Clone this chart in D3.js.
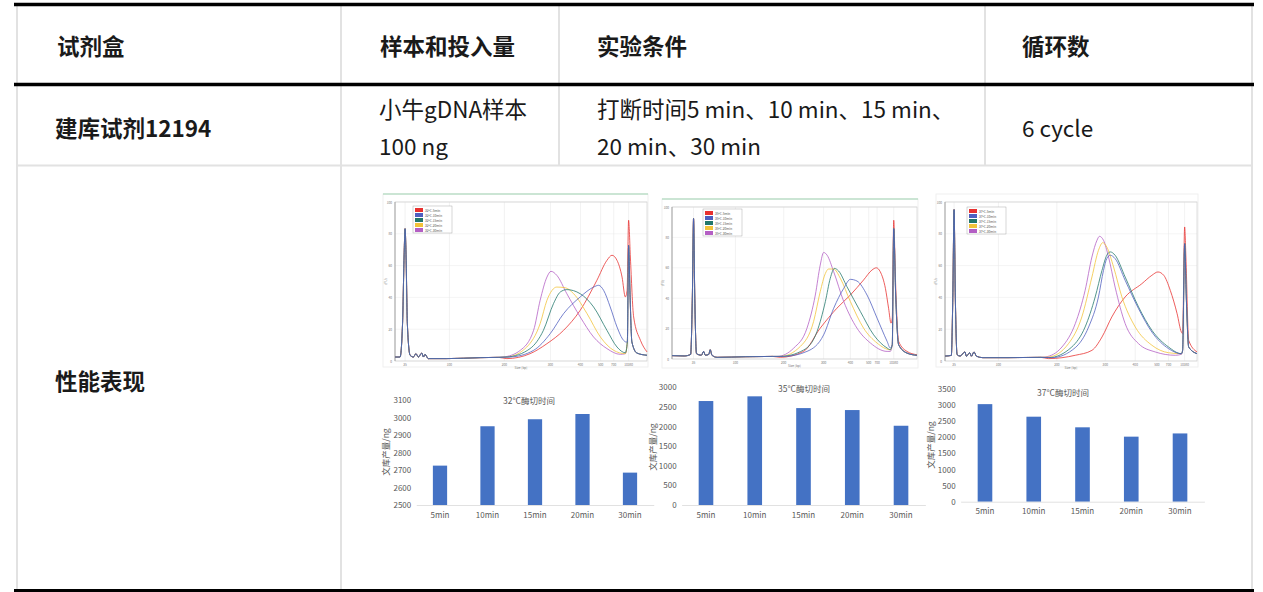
<!DOCTYPE html>
<html>
<head>
<meta charset="utf-8">
<script src="https://cdn.jsdelivr.net/npm/d3@7"></script>
<style>
  html, body { margin: 0; padding: 0; background: #fff; }
  svg { display: block; font-family: "Noto Sans CJK SC", "Noto Sans", sans-serif; }
</style>
</head>
<body>
<svg id="chart" width="1263" height="592"></svg>
<script>
// ---------- table text ----------
const headerCells = ["试剂盒", "样本和投入量", "实验条件", "循环数"];
const kitName = "建库试剂12194";
const sampleLines = ["小牛gDNA样本", "100 ng"];
const conditionLines = ["打断时间5 min、10 min、15 min、", "20 min、30 min"];
const cycleText = "6 cycle";
const rowTitle = "性能表现";

// ---------- library yield bar charts ----------
const digestTimes = ["5min", "10min", "15min", "20min", "30min"];
const yield32 = [2725, 2950, 2990, 3020, 2685];
const yield35 = [2650, 2770, 2470, 2420, 2020];
const yield37 = [3030, 2640, 2310, 2020, 2120];
const ticks32 = [2500, 2600, 2700, 2800, 2900, 3000, 3100];
const ticks35 = [0, 500, 1000, 1500, 2000, 2500, 3000];
const ticks37 = [0, 500, 1000, 1500, 2000, 2500, 3000, 3500];
const barTitles = ["32°C酶切时间", "35°C酶切时间", "37°C酶切时间"];
const yieldAxisLabel = "文库产量/ng";

// ---------- fragment size traces (x: migration %, y: FU) ----------
const traceColors = ["#e8312f", "#4f5fbf", "#22776b", "#f2c33a", "#b45fc4"];
const fuTicks = [0, 20, 40, 60, 80, 100];
const sizeLabels = ["35", "100", "200", "300", "400", "500", "700", "10380"];
const ladder32 = [4.0, 21.6, 43.4, 61.7, 73.6, 81.6, 86.8, 92.7];
const ladder35 = [8.8, 25.9, 45.6, 61.9, 72.8, 80.3, 83.7, 90.5];
const ladder37 = [3.6, 21.2, 44.4, 63.6, 75.5, 84.1, 88.7, 95.1];

// 32°C
const ep32Head = [[0,2.5],[2.0,2.5],[3.0,23.5],[3.6,65.4],[4.0,83.2],[4.4,65.4],[4.9,23.5],[6.0,3.6],[7.3,2.5],[8.3,4.6],[9.3,2.5],[10.6,5.0],[11.3,2.5],[11.9,4.2],[13.2,1.5],[20.5,1.5],[33.8,2.1],[41.0,2.3]];
const ep32Min5 = [[44.4,1.5],[53.6,4.6],[60.3,10.9],[66.9,19.3],[73.5,31.9],[80.1,50.7],[84.1,63.3],[86.1,66.5],[88.1,63.3],[90.1,52.8],[91.4,40.3],[92.1,44.4],[92.7,88.5],[93.4,65.4],[94.7,27.7],[97.4,13.0],[100,5.7]];
const ep32Min10 = [[45.7,2.5],[55.0,6.7],[61.6,17.2],[66.9,29.8],[73.5,40.3],[78.8,46.5],[80.8,47.6],[82.8,44.4],[85.4,34.0],[88.1,21.4],[90.7,13.0],[91.8,11.9]];
const ep32Min15 = [[44.4,2.5],[53.6,7.8],[58.9,19.3],[62.9,36.1],[65.6,43.4],[68.2,44.9],[73.5,42.3],[78.8,34.0],[84.1,19.3],[88.1,8.8],[91.4,5.2]];
const ep32Min20 = [[44.4,2.5],[52.3,8.8],[57.6,23.5],[60.3,38.2],[62.3,44.4],[64.2,46.5],[67.5,46.1],[70.9,42.3],[76.2,29.8],[81.5,15.1],[86.8,6.7],[91.4,4.6]];
const ep32Min30 = [[43.0,2.5],[49.7,6.7],[55.0,19.3],[57.6,38.2],[60.3,52.8],[61.9,56.4],[64.2,53.9],[68.2,42.3],[73.5,27.7],[78.8,15.1],[84.1,7.8],[89.4,4.2],[91.4,4.6]];
const ep32Tail = [[92.2,12.0],[92.7,72.7],[93.3,40.0],[94.0,12.0],[96.0,5.0],[100,3.6]];

// 35°C
const ep35Head = [[0,2.2],[5.0,2.0],[7.6,3.0],[8.3,40.0],[8.8,92.4],[9.3,40.0],[10.0,3.5],[12.0,2.5],[12.9,5.0],[13.6,2.5],[15.0,3.0],[15.6,6.1],[16.3,2.5],[18.4,1.1],[30.0,1.5],[41.0,1.7]];
const ep35Min5 = [[44.2,1.1],[53.7,5.0],[60.5,20.3],[67.3,33.4],[72.8,42.1],[78.2,52.0],[81.6,58.5],[83.4,60.0],[85.0,57.4],[87.1,46.5],[88.4,33.4],[89.4,23.6],[89.9,26.9],[90.5,91.3],[91.2,53.1],[92.5,11.6],[95.9,5.0],[100,2.8]];
const ep35Min10 = [[45.6,1.7],[55.1,5.0],[61.9,15.9],[66.0,33.4],[70.1,46.5],[72.8,52.4],[75.5,51.3],[79.6,42.1],[83.7,26.9],[87.8,11.6],[89.1,7.2]];
const ep35Min15 = [[44.2,1.7],[53.7,5.9],[59.2,18.1],[62.6,37.8],[64.6,53.1],[66.3,59.6],[68.0,57.9],[71.4,47.6],[76.9,31.2],[82.3,15.9],[87.8,7.2],[89.1,6.1]];
const ep35Min20 = [[44.2,1.7],[52.4,8.3],[57.8,24.7],[60.5,44.3],[62.6,56.3],[63.9,59.2],[66.0,59.2],[68.7,53.1],[72.8,37.8],[78.2,20.3],[83.7,10.5],[89.1,6.1]];
const ep35Min30 = [[42.9,1.7],[49.7,7.2],[55.1,20.3],[58.5,42.1],[60.5,61.8],[61.9,70.1],[63.3,68.3],[66.0,57.4],[70.1,37.8],[75.5,20.3],[81.0,10.5],[87.8,5.0],[89.1,5.0]];
const ep35Tail = [[89.9,9.4],[90.5,85.8],[91.3,42.1],[92.5,9.4],[95.9,3.9],[100,2.4]];

// 37°C
const ep37Head = [[0,3.1],[2.5,3.5],[3.1,40.0],[3.6,95.2],[4.1,40.0],[4.8,4.0],[6.0,3.1],[7.9,5.7],[8.5,3.0],[9.8,5.2],[10.5,3.0],[11.5,5.7],[12.5,3.0],[15.0,2.1],[25.0,2.1],[38.0,2.3]];
const ep37Min5 = [[41.1,1.5],[51.7,3.6],[58.3,6.7],[62.3,15.1],[66.2,27.7],[71.5,40.3],[78.1,48.6],[82.1,53.9],[84.5,56.0],[86.8,53.9],[89.4,44.4],[92.1,29.8],[93.8,18.2],[94.3,17.2],[95.1,84.3],[95.6,65.4],[96.7,13.0],[100,5.7]];
const ep37Min10 = [[42.4,2.1],[51.7,8.4],[57.0,21.4],[60.9,40.3],[62.9,57.0],[64.2,64.4],[65.6,66.5],[67.5,64.4],[71.5,50.7],[76.8,32.9],[82.1,18.2],[88.7,7.8],[93.8,4.6]];
const ep37Min15 = [[41.1,2.1],[50.3,8.8],[55.6,21.4],[59.6,40.3],[62.3,57.0],[64.2,66.5],[65.6,68.6],[67.5,66.5],[71.5,52.8],[76.8,34.0],[82.1,19.3],[88.7,8.8],[93.8,4.6]];
const ep37Min20 = [[41.1,2.5],[49.0,10.9],[54.3,27.7],[58.3,52.8],[60.9,69.6],[62.6,74.4],[64.2,71.7],[66.9,59.1],[70.2,40.3],[75.5,21.4],[82.1,9.9],[88.7,5.2],[93.8,4.6]];
const ep37Min30 = [[39.7,2.5],[46.4,8.8],[51.7,23.5],[55.6,44.4],[58.3,65.4],[60.3,75.9],[61.3,78.4],[62.9,75.9],[64.9,65.4],[67.5,46.5],[71.5,23.5],[76.8,10.9],[83.4,5.7],[91.4,3.6],[93.8,4.2]];
const ep37Tail = [[94.3,6.7],[95.1,73.8],[95.8,38.2],[96.7,8.8],[100,4.6]];

const svg = d3.select("#chart");
svg.append("rect").attr("width", 1263).attr("height", 592).attr("fill", "#fff");

// ---------- table grid ----------
const grid = svg.append("g");
// full-height borders, plus the column separator that continues into the last row
[17, 341, 1252].forEach(x => {
  grid.append("line").attr("x1", x).attr("x2", x).attr("y1", 5).attr("y2", 590)
    .attr("stroke", "#e2e2e2").attr("stroke-width", 2);
});
// separators that only span the header and the parameter row
[559, 985].forEach(x => {
  grid.append("line").attr("x1", x).attr("x2", x).attr("y1", 5).attr("y2", 165)
    .attr("stroke", "#e2e2e2").attr("stroke-width", 2);
});
grid.append("line").attr("x1", 17).attr("x2", 1252).attr("y1", 165.5).attr("y2", 165.5)
  .attr("stroke", "#e2e2e2").attr("stroke-width", 2);
[[4.5, 3.5], [84.5, 3.5], [590.5, 3]].forEach(([y, w]) => {
  grid.append("line").attr("x1", 14).attr("x2", 1254).attr("y1", y).attr("y2", y)
    .attr("stroke", "#000").attr("stroke-width", w);
});

const txt = svg.append("g").attr("fill", "#1a1a1a").style("font-size", "22.5px");
const headerX = [57, 380, 597, 1022];
txt.selectAll("text.h").data(headerCells).join("text")
  .attr("x", (d, i) => headerX[i]).attr("y", 45).attr("dominant-baseline", "central")
  .attr("font-weight", 700).text(d => d);
txt.append("text").attr("x", 55).attr("y", 127).attr("dominant-baseline", "central")
  .attr("font-weight", 700).text(kitName);
txt.selectAll("text.s").data(sampleLines).join("text")
  .attr("x", 379).attr("y", (d, i) => 108 + i * 37).attr("dominant-baseline", "central").text(d => d);
txt.selectAll("text.c").data(conditionLines).join("text")
  .attr("x", 597).attr("y", (d, i) => 108 + i * 37).attr("dominant-baseline", "central").text(d => d);
txt.append("text").attr("x", 1022).attr("y", 127).attr("dominant-baseline", "central").text(cycleText);
txt.append("text").attr("x", 55).attr("y", 380).attr("dominant-baseline", "central")
  .attr("font-weight", 700).text(rowTitle);

// ---------- electropherogram overlays ----------
function drawTrace(cfg) {
  const g = svg.append("g");
  const x = d3.scaleLinear().domain([0, 100]).range([cfg.x0, cfg.x1]);
  const y = d3.scaleLinear().domain([0, 100]).range([cfg.y0, cfg.y1]);

  // outer picture frame
  g.append("rect").attr("x", cfg.fx0).attr("y", cfg.fy0)
    .attr("width", cfg.fx1 - cfg.fx0).attr("height", cfg.fy1 - cfg.fy0)
    .attr("fill", "#fff").attr("stroke", "#ececec").attr("stroke-width", 0.8);
  if (cfg.greenTop) {
    g.append("line").attr("x1", cfg.fx0).attr("x2", cfg.fx1).attr("y1", cfg.fy0).attr("y2", cfg.fy0)
      .attr("stroke", "#9fd4b1").attr("stroke-width", 1.2);
  }

  // grid
  g.selectAll("line.hg").data(fuTicks).join("line")
    .attr("x1", cfg.x0).attr("x2", cfg.x1).attr("y1", d => y(d)).attr("y2", d => y(d))
    .attr("stroke", "#ededed").attr("stroke-width", 0.6);
  g.selectAll("line.vg").data(cfg.ladder).join("line")
    .attr("x1", d => x(d)).attr("x2", d => x(d)).attr("y1", cfg.y0).attr("y2", cfg.y1)
    .attr("stroke", "#e9e9e9").attr("stroke-width", 0.6);
  g.append("rect").attr("x", cfg.x0).attr("y", cfg.y1)
    .attr("width", cfg.x1 - cfg.x0).attr("height", cfg.y0 - cfg.y1)
    .attr("fill", "none").attr("stroke", "#c8c8c8").attr("stroke-width", 0.6);
  g.append("line").attr("x1", cfg.x0).attr("x2", cfg.x0).attr("y1", cfg.y0).attr("y2", cfg.y1)
    .attr("stroke", "#8a8a8a").attr("stroke-width", 0.7);

  // tiny axis labels
  const small = g.append("g").attr("fill", "#777").style("font-size", "3.2px");
  small.selectAll("text.yt").data(fuTicks).join("text")
    .attr("x", cfg.x0 - 3).attr("y", d => y(d)).attr("text-anchor", "end")
    .attr("dominant-baseline", "central").text(d => d);
  small.selectAll("text.xt").data(cfg.ladder).join("text")
    .attr("x", d => x(d)).attr("y", cfg.y0 + 3).attr("text-anchor", "middle")
    .attr("dominant-baseline", "central").text((d, i) => sizeLabels[i]);
  small.append("text").attr("x", (cfg.x0 + cfg.x1) / 2).attr("y", cfg.y0 + 6)
    .attr("text-anchor", "middle").attr("dominant-baseline", "central").text("Size [bp]");
  small.append("text").attr("transform", `translate(${cfg.x0 - 8},${(cfg.y0 + cfg.y1) / 2}) rotate(-90)`)
    .attr("text-anchor", "middle").text("[FU]");

  // traces
  const series = cfg.bodies.map((b, i) => ({
    color: traceColors[i],
    pts: i === 0 ? cfg.head.concat(b) : cfg.head.concat(b, cfg.tail)
  }));
  const line = d3.line().x(d => x(d[0])).y(d => y(d[1])).curve(d3.curveMonotoneX);
  const order = [0, 4, 3, 2, 1];
  g.selectAll("path.tr").data(order.map(i => series[i])).join("path")
    .attr("d", d => line(d.pts)).attr("fill", "none")
    .attr("stroke", d => d.color).attr("stroke-width", 0.85)
    .attr("stroke-opacity", 0.92).attr("stroke-linejoin", "round");

  // legend
  const lg = g.append("g").attr("transform", `translate(${cfg.legendX},${cfg.legendY})`);
  lg.append("rect").attr("width", 39).attr("height", 27).attr("fill", "#fff")
    .attr("stroke", "#9a9a9a").attr("stroke-width", 0.4);
  const rows = lg.selectAll("g").data(digestTimes).join("g")
    .attr("transform", (d, i) => `translate(2,${2 + i * 5})`);
  rows.append("rect").attr("width", 8).attr("height", 4)
    .attr("fill", (d, i) => traceColors[i]);
  rows.append("text").attr("x", 10).attr("y", 2).attr("dominant-baseline", "central")
    .style("font-size", "3.2px").attr("fill", "#555").text(d => `${cfg.temp}°C-${d}`);
}

drawTrace({ temp: 32, x0: 395, x1: 647, y0: 361, y1: 202, fx0: 383, fx1: 648, fy0: 194, fy1: 367,
  greenTop: true, legendX: 413, legendY: 206, ladder: ladder32,
  head: ep32Head, tail: ep32Tail, bodies: [ep32Min5, ep32Min10, ep32Min15, ep32Min20, ep32Min30] });
drawTrace({ temp: 35, x0: 672, x1: 917, y0: 359, y1: 207, fx0: 662, fx1: 918, fy0: 199, fy1: 368,
  greenTop: true, legendX: 703, legendY: 209, ladder: ladder35,
  head: ep35Head, tail: ep35Tail, bodies: [ep35Min5, ep35Min10, ep35Min15, ep35Min20, ep35Min30] });
drawTrace({ temp: 37, x0: 945, x1: 1197, y0: 361, y1: 202, fx0: 936, fx1: 1198, fy0: 194, fy1: 367,
  greenTop: false, legendX: 967, legendY: 207, ladder: ladder37,
  head: ep37Head, tail: ep37Tail, bodies: [ep37Min5, ep37Min10, ep37Min15, ep37Min20, ep37Min30] });

// ---------- yield bar charts ----------
function drawBars(cfg, values, ticks, title) {
  const g = svg.append("g").style("font-size", "8px");
  const x = d3.scaleBand().domain(digestTimes).range([cfg.left, cfg.right])
    .paddingInner(0.7).paddingOuter(0.35);
  const y = d3.scaleLinear().domain([ticks[0], ticks[ticks.length - 1]]).range([cfg.bottom, cfg.top]);

  g.selectAll("rect").data(values).join("rect")
    .attr("x", (d, i) => x(digestTimes[i])).attr("y", d => y(d))
    .attr("width", x.bandwidth()).attr("height", d => cfg.bottom - y(d))
    .attr("fill", "#4472c4");

  const ya = g.append("g").attr("transform", `translate(${cfg.left},0)`)
    .call(d3.axisLeft(y).tickValues(ticks).tickFormat(d3.format("d")).tickSize(0).tickPadding(5));
  ya.select(".domain").remove();
  ya.selectAll("text").attr("fill", "#595959").style("font-size", "8px")
    .style("font-family", "'Noto Sans CJK SC', sans-serif");

  const xa = g.append("g").attr("transform", `translate(0,${cfg.bottom})`)
    .call(d3.axisBottom(x).tickSize(0).tickSizeOuter(0).tickPadding(7));
  xa.select(".domain").attr("stroke", "#d9d9d9").attr("stroke-width", 0.8);
  xa.selectAll("text").attr("fill", "#595959").style("font-size", "8px")
    .style("font-family", "'Noto Sans CJK SC', sans-serif");

  g.append("text").attr("x", cfg.titleX).attr("y", cfg.titleY).attr("text-anchor", "middle")
    .attr("dominant-baseline", "central").attr("fill", "#595959").style("font-size", "8.5px")
    .text(title);
  g.append("text").attr("transform", `translate(${cfg.labelX},${cfg.labelY}) rotate(-90)`)
    .attr("text-anchor", "middle").attr("dominant-baseline", "central")
    .attr("fill", "#595959").style("font-size", "8.5px").text(yieldAxisLabel);
}

drawBars({ left: 416.25, right: 653.75, bottom: 505, top: 400, titleX: 529, titleY: 400, labelX: 385, labelY: 452 },
  yield32, ticks32, barTitles[0]);
drawBars({ left: 681.6, right: 925.4, bottom: 505, top: 387.3, titleX: 804, titleY: 388, labelX: 652, labelY: 447 },
  yield35, ticks35, barTitles[1]);
drawBars({ left: 960.6, right: 1204.4, bottom: 501.7, top: 389, titleX: 1063, titleY: 392, labelX: 930, labelY: 445 },
  yield37, ticks37, barTitles[2]);
</script>
</body>
</html>
